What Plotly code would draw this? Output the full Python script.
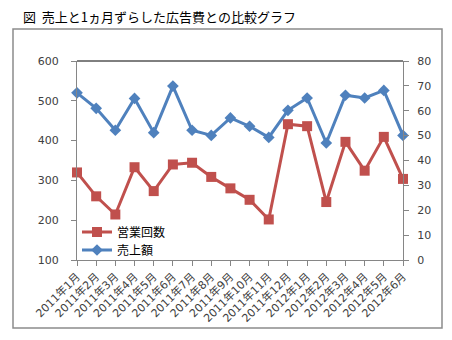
import plotly.graph_objects as go

months = ["2011年1月", "2011年2月", "2011年3月", "2011年4月", "2011年5月", "2011年6月",
          "2011年7月", "2011年8月", "2011年9月", "2011年10月", "2011年11月", "2011年12月",
          "2012年1月", "2012年2月", "2012年3月", "2012年4月", "2012年5月", "2012年6月"]
sales = [520, 481, 426, 506, 420, 537, 426, 413, 457, 436, 408, 476, 507, 394, 514, 507, 526, 413]
visits = [35.2, 25.6, 18.3, 37.3, 27.7, 38.4, 39.1, 33.4, 28.8, 24.2, 16.3, 54.6, 53.8, 23.3, 47.5, 35.9, 49.5, 32.6]

idx = list(range(len(months)))
RED = "#C0504D"
BLUE = "#4F81BD"
GRAY = "#868686"
TICKFONT = dict(family="DejaVu Sans, Noto Sans CJK JP", size=11, color="#404040")
LEGFONT = dict(family="Noto Sans CJK JP", size=12, color="black")

fig = go.Figure()
fig.add_trace(go.Scatter(x=idx, y=visits, name="営業回数", yaxis="y2", mode="lines+markers",
                         line=dict(color=RED, width=3),
                         marker=dict(symbol="square", size=10, color=RED),
                         cliponaxis=False, legend="legend"))
fig.add_trace(go.Scatter(x=idx, y=sales, name="売上額", yaxis="y", mode="lines+markers",
                         line=dict(color=BLUE, width=3),
                         marker=dict(symbol="diamond", size=9, color=BLUE),
                         cliponaxis=False, legend="legend2"))

W, H = 452, 340
L, R, T, B = 77, 49, 61, 80
pw, ph = W - L - R, H - T - B

def px(x):
    return (x - L) / pw

def py(y):
    return (H - B - y) / ph

legcommon = dict(xanchor="left", yanchor="middle", bgcolor="rgba(0,0,0,0)", borderwidth=0,
                 font=LEGFONT, itemwidth=30)

fig.update_layout(
    width=W, height=H,
    margin=dict(l=L, r=R, t=T, b=B, pad=0),
    paper_bgcolor="white", plot_bgcolor="white",
    showlegend=True,
    legend=dict(x=px(77), y=py(232), **legcommon),
    legend2=dict(x=px(77), y=py(250), **legcommon),
    xaxis=dict(range=[0, len(months) - 1], tickmode="array", tickvals=idx, ticktext=months,
               tickangle=-45, showgrid=False, zeroline=False,
               showline=True, linecolor=GRAY, linewidth=1,
               ticks="outside", ticklen=5, tickcolor=GRAY, tickfont=TICKFONT),
    yaxis=dict(range=[100, 600], dtick=100, showgrid=False, zeroline=False,
               showline=True, linecolor=GRAY, linewidth=1,
               ticks="outside", ticklen=5, tickcolor=GRAY, tickfont=TICKFONT,
               ticklabelstandoff=10),
    yaxis2=dict(range=[0, 80], dtick=10, overlaying="y", side="right",
                showgrid=False, zeroline=False,
                showline=True, linecolor=GRAY, linewidth=1,
                ticks="outside", ticklen=5, tickcolor=GRAY, tickfont=TICKFONT,
                ticklabelstandoff=6),
    shapes=[
        dict(type="rect", xref="paper", yref="paper", x0=px(13), x1=px(442), y0=py(328), y1=py(29),
             line=dict(color="#8C8C8C", width=1.5), fillcolor="rgba(0,0,0,0)", layer="below"),
        dict(type="line", xref="paper", yref="paper", x0=0, x1=1, y0=1, y1=1,
             line=dict(color="black", width=1)),
    ],
    annotations=[
        dict(text="図  売上と1ヵ月ずらした広告費との比較グラフ", xref="paper", yref="paper",
             x=px(21), y=py(16), xanchor="left", yanchor="middle", showarrow=False,
             font=dict(family="Noto Sans CJK JP", size=13, color="black")),
    ],
)

fig.write_html("out.html")
